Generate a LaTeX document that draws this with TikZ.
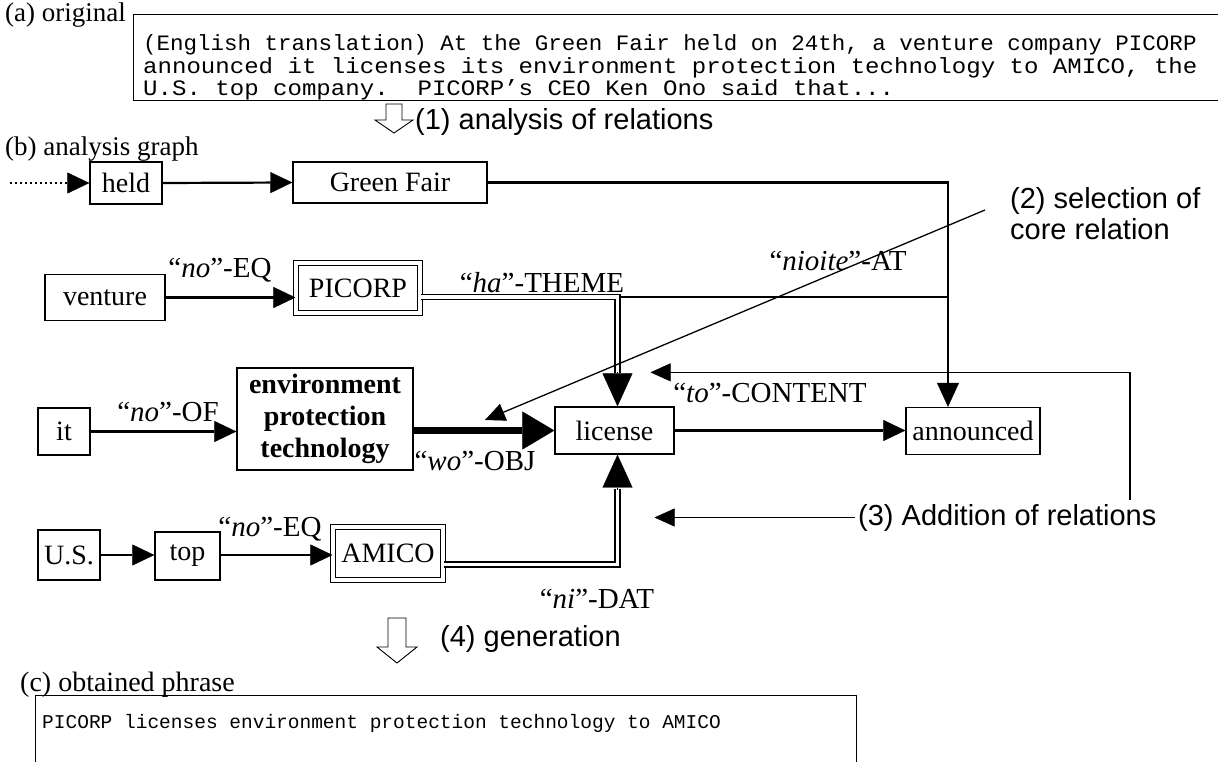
\documentclass[tikz,border=0pt]{standalone}
\usepackage{fontspec}
\usepackage{graphicx}
\setmainfont{Liberation Serif}
\setsansfont{Liberation Sans}
\setmonofont{Liberation Mono}
\usetikzlibrary{arrows.meta,calc}
\begin{document}
\begin{tikzpicture}[x=1pt,y=-1pt,
  box/.style={draw,line width=1.3pt,inner sep=0pt,font=\fontsize{28}{32}\selectfont},
  dbox/.style={box,double,double distance=3.2pt,line width=1.1pt},
  lab/.style={inner sep=0pt,anchor=base,font=\fontsize{29}{33}\selectfont},
  hlab/.style={inner sep=0pt,anchor=base west,font=\fontsize{28}{32}\selectfont},
  slab/.style={inner sep=0pt,anchor=base west,font=\sffamily\fontsize{29}{33}\selectfont},
  mono/.style={inner sep=0pt,anchor=base west,font=\ttfamily\fontsize{22}{22}\selectfont},
  con/.style={line width=2.2pt,-{Triangle[length=22pt,width=21pt,line width=0.4pt]}},
  thickcon/.style={line width=2.8pt,-{Triangle[length=24pt,width=22pt,line width=0.4pt]}},
  objcon/.style={line width=7.5pt,-{Triangle[length=32pt,width=38pt,line width=0.4pt]}},
  bigtip/.style={line width=1pt,-{Triangle[length=33pt,width=30pt,line width=0.4pt]}},
  thincon/.style={line width=1.3pt,-{Triangle[length=20pt,width=18pt,line width=0.4pt]}},
  dline/.style={double,double distance=3.5pt,line width=1.3pt},
  dotcon/.style={line width=2.2pt,dash pattern=on 2pt off 3pt,-{Triangle[length=22pt,width=21pt,line width=0.4pt]}},
  hollow/.style={line width=0.9pt,fill=white,line join=miter}
]
\useasboundingbox (0,0) rectangle (1218,762);

% (a) original
\node[hlab,font=\fontsize{27}{31}\selectfont] (alab) at (5,22) {(a) original};
\node[draw,line width=1pt,anchor=north west,minimum width=1095pt,minimum height=86pt,inner sep=0pt] (abox) at (133,14) {};
\node[mono,anchor=north west,align=left,font=\ttfamily\fontsize{22}{22.5}\selectfont] (txt) at (143,34.5)
  {\scalebox{1.023}[1]{(English translation) At the Green Fair held on 24th, a venture company PICORP}\\
   \scalebox{1.094}[1]{announced it licenses its environment protection technology to AMICO, the}\\
   \scalebox{1.094}[1]{U.S. top company.~ PICORP’s CEO Ken Ono said that...}};

% (1)
\draw[hollow] (386,104) -- (386,120) -- (375,120) -- (394,133) -- (413,120) -- (402,120) -- (402,104) -- cycle;
\node[slab] (s1) at (415,130) {(1) analysis of relations};

% (b)
\node[hlab,font=\fontsize{27}{31}\selectfont] (blab) at (5,156) {(b) analysis graph};

% row 1
\node[box,minimum width=72pt,minimum height=42pt] (held) at (126,183) {held};
\node[box,minimum width=194pt,minimum height=41pt] (gf) at (390,182.5) {Green Fair};
\coordinate (dots) at (10,183);
\draw[dotcon] (dots) -- (held.west);
\draw[con] (held.east) -- (gf.west);

% row 2
\node[box,minimum width=120pt,minimum height=46pt] (venture) at (105,297.5) {venture};
\node[dbox,minimum width=124pt,minimum height=50pt] (picorp) at (358,288) {PICORP};
\draw[con] (venture.east) -- (picorp.west |- venture.east);
\node[lab] (noeq1) at (220,277) {“\textit{no}”-EQ};
\node[lab] (theme) at (542,292) {“\textit{ha}”-THEME};
\node[lab] (atl) at (838,270) {“\textit{nioite}”-AT};

% row 3
\node[box,minimum width=52pt,minimum height=47pt] (it) at (64,431.5) {it};
\node[box,minimum width=176pt,minimum height=102pt,align=center,font=\bfseries\fontsize{28}{32}\selectfont] (env) at (325,419) {environment\\protection\\technology};
\node[lab] (noof) at (168,421) {“\textit{no}”-OF};
\node[box,minimum width=119pt,minimum height=47pt] (license) at (614.5,430.5) {license};
\node[box,minimum width=134pt,minimum height=47pt] (ann) at (973,431) {announced};
\node[lab] (obj) at (475,470) {“\textit{wo}”-OBJ};
\node[lab] (content) at (770,402) {“\textit{to}”-CONTENT};

% row 4
\node[box,minimum width=62pt,minimum height=50pt] (us) at (69,555) {U.S.};
\node[box,minimum width=65pt,minimum height=48pt] (top) at (187.5,556) {top};
\node[dbox,minimum width=110pt,minimum height=53pt] (amico) at (388,553.5) {AMICO};
\node[lab] (noeq2) at (270,536) {“\textit{no}”-EQ};
\node[lab] (dat) at (597,608) {“\textit{ni}”-DAT};

% connectors
\draw[con] (it.east) -- (env.west |- it.east);
\draw[objcon] (env.east |- license.west) -- (license.west);
\draw[con] (license.east) -- (ann.west |- license.east);
\draw[con] (us.east) -- (top.west |- us.east);
\draw[con] (top.east |- us.east) -- (amico.west |- us.east);

% Green Fair -> announced, PICORP -> announced
\coordinate (annin) at ($(ann.north)+(-25,0)$);
\coordinate (pex) at ($(picorp.east)+(0,9)$);
\coordinate (jt) at (annin |- pex);
\draw[line width=2.2pt] (pex) -- (jt);
\draw[thickcon] (gf.east) -| (annin);

% added relations (double lines)
\coordinate (lt) at ($(license.north)+(3,0)$);
\coordinate (lb) at ($(license.south)+(3,0)$);
\coordinate (aex) at ($(amico.east)+(0,11)$);
\draw[dline] (pex) -| ($(lt)+(0,-33)$);
\draw[bigtip] ($(lt)+(0,-34)$) -- (lt);
\draw[dline] (aex) -| ($(lb)+(0,34)$);
\draw[bigtip] ($(lb)+(0,35)$) -- (lb);

% feedback (to-CONTENT)
\coordinate (fbs) at (1130,500);
\coordinate (fbt) at ($(lt)+(33,-34)$);
\draw[thincon] (fbs) |- (fbt);

% (2) selection
\node[slab] (sel1) at (1010,209) {(2) selection of};
\node[slab] (sel2) at (1010,240) {core relation};
\coordinate (d1) at (985,210);
\coordinate (d2) at (485,420);
\draw[thincon] (d1) -- (d2);

% (3) addition
\node[slab] (add) at (858,525) {(3) Addition of relations};
\draw[thincon] ([xshift=-3pt]add.west) -- ($(add.west -| lb)+(37,0)$);

% (4) generation
\draw[hollow] (388,618) -- (388,647) -- (377,647) -- (397,663) -- (417,647) -- (406,647) -- (406,618) -- cycle;
\node[slab] (s4) at (440,646) {(4) generation};

% (c)
\node[hlab] (clab) at (20,691) {(c) obtained phrase};
\node[draw,line width=1pt,anchor=north west,minimum width=821pt,minimum height=80pt,inner sep=0pt] (cbox) at (35,695) {};
\node[mono,font=\ttfamily\fontsize{19.5}{20}\selectfont] (t4) at (42,728) {PICORP licenses environment protection technology to AMICO};
\end{tikzpicture}
\end{document}
